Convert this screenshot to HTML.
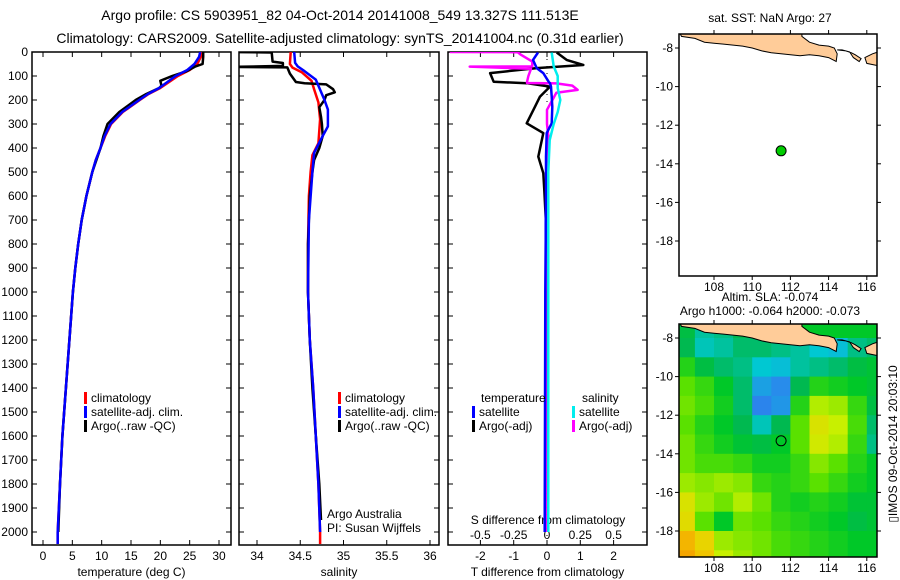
<!DOCTYPE html>
<html><head><meta charset="utf-8"><style>
html,body{margin:0;padding:0;background:#fff}
svg{display:block;font-family:"Liberation Sans",sans-serif}
</style></head><body>
<svg id="c" width="900" height="580" viewBox="0 0 900 580">
<text x="340" y="20" font-size="14" text-anchor="middle">Argo profile: CS 5903951_82 04-Oct-2014 20141008_549 13.327S 111.513E</text>
<text x="340" y="43" font-size="14" text-anchor="middle">Climatology: CARS2009. Satellite-adjusted climatology: synTS_20141004.nc (0.31d earlier)</text>
<defs>
<clipPath id="cp1"><rect x="32" y="52" width="199" height="493"/></clipPath>
<clipPath id="cp2"><rect x="239" y="52" width="200" height="493"/></clipPath>
<clipPath id="cp3"><rect x="448" y="52" width="199" height="493"/></clipPath>
<clipPath id="cm1"><rect x="679" y="34" width="198" height="242"/></clipPath>
<clipPath id="cm2"><rect x="679" y="324" width="198" height="233"/></clipPath>
</defs>
<g id="g"></g>
</svg>
<script>
// ---- data ----
const depthTicks=[0,100,200,300,400,500,600,700,800,900,1000,1100,1200,1300,1400,1500,1600,1700,1800,1900,2000];
const tempTicks=[0,5,10,15,20,25,30];
const salTicks=[34,34.5,35,35.5,36];
const salTickLabels=["34","34.5","35","35.5","36"];
const tdTicks=[-2,-1,0,1,2];
const sdTicks=[-0.5,-0.25,0,0.25,0.5];
const sdTickLabels=["-0.5","-0.25","0","0.25","0.5"];
const lonTicks=[108,110,112,114,116];
const latTicks=[-8,-10,-12,-14,-16,-18];

const tClimDepth=[0,20,50,75,100,125,150,175,200,250,300,350,400,450,500,600,700,800,900,1000,1200,1400,1600,1800,2000,2050];
const tClimVal=[27,26.9,26.3,25,23,21.5,20,18,16.5,13.6,11.6,10.6,9.8,9.0,8.4,7.4,6.6,6.0,5.5,5.1,4.5,3.9,3.3,2.9,2.5,2.5];
const tSatVal=[26.8,26.6,25.8,24.6,22.6,21.2,19.8,17.9,16.4,13.5,11.5,10.5,9.8,9.0,8.4,7.4,6.6,6.0,5.5,5.1,4.5,3.9,3.3,2.9,2.5,2.5];
const tArgoDepth=[0,20,50,60,80,100,120,140,150,175,200,250,300,350,400,450,500,600,700,800,900,1000,1200,1400,1600,1800,2000];
const tArgoVal=[27.3,27.3,27.2,26,24.5,22,20,20.2,19.8,17.6,15.8,13.0,11.0,10.3,9.8,9.1,8.4,7.4,6.6,6.0,5.5,5.1,4.5,3.9,3.3,2.9,2.6];

const sClimDepth=[0,50,65,85,120,155,210,280,380,430,500,600,800,1000,1200,1400,1600,1800,2000,2050];
const sClimVal=[34.39,34.38,34.41,34.52,34.63,34.66,34.71,34.73,34.71,34.64,34.62,34.60,34.59,34.59,34.61,34.65,34.68,34.71,34.73,34.73];
const sSatDepth=[0,45,60,80,115,200,240,310,350,420,500,700,1000,1200,1400,1600,1800,2000];
const sSatVal=[34.43,34.44,34.47,34.55,34.68,34.78,34.82,34.82,34.76,34.66,34.64,34.60,34.59,34.61,34.65,34.68,34.71,34.73];
const sArgoDepth=[0,2,40,46,58,62,64,90,125,130,135,155,168,180,200,230,270,300,350,400,450,500,600,800,1000,1200,1400,1600,1800,1950];
const sArgoVal=[33.7,34.17,34.18,34.3,34.3,33.7,34.35,34.38,34.45,34.55,34.8,34.88,34.9,34.8,34.78,34.72,34.74,34.75,34.76,34.72,34.66,34.64,34.61,34.59,34.59,34.61,34.64,34.68,34.72,34.74];

const dDepth=[2,33,54,67,88,124,130,144,186,228,297,338,436,505,575,714,783,1000,1500,2000];
const dTArgo=[0.29,0.59,1.09,-0.31,-1.71,-1.6,-0.61,0.09,-0.21,-0.36,-0.61,-0.11,-0.26,-0.11,-0.08,-0.03,-0.03,-0.02,0.02,0.03];
const dTSat=[-0.27,-0.42,-0.35,-0.31,-0.11,0.05,0.09,0.12,0.14,0.16,0.14,-0.01,-0.03,-0.03,-0.03,-0.04,-0.04,-0.05,-0.06,-0.07];
const dSArgoDepth=[0,1,10,40,60,61,70,100,125,129,131,140,158,170,190,241,300,350,500,1000,1500,2000];
const dSArgoVal=[-0.73,-0.22,-0.2,-0.11,-0.11,-0.58,-0.12,-0.14,-0.15,-0.15,0.07,0.19,0.23,0.07,0.05,0.0,0.0,0.01,0.0,-0.01,-0.01,-0.01];
const dSSatDepth=[2,60,100,150,200,250,300,367,500,1000,1500,2000];
const dSSatVal=[0.035,0.05,0.08,0.08,0.1,0.08,0.05,0.02,0.01,0.01,0.01,0.01];

const argoLon=111.513, argoLat=-13.327;
const slaLons=[106.5,107.5,108.5,109.5,110.5,111.5,112.5,113.5,114.5,115.5,116.5];
const slaLats=[-7.5,-8.5,-9.5,-10.5,-11.5,-12.5,-13.5,-14.5,-15.5,-16.5,-17.5,-18.5,-19.5];
const slaGrid=[
[-0.02,-0.06,-0.05,-0.03,0,0,0,0,0,0,0],
[-0.03,-0.07,-0.06,-0.04,-0.04,-0.05,-0.06,-0.08,-0.09,-0.05,-0.04],
[0.02,-0.02,-0.04,-0.05,-0.08,-0.09,-0.06,-0.05,-0.04,-0.02,-0.01],
[0.05,0.03,0,-0.04,-0.12,-0.14,-0.03,0.02,0.01,0,-0.01],
[0.06,0.04,0.01,-0.04,-0.15,-0.13,0.02,0.09,0.08,0.03,-0.02],
[0.05,0.02,0,-0.03,-0.07,-0.03,0.05,0.12,0.1,0.04,-0.04],
[0.06,0.03,0.01,-0.01,-0.02,0,0.05,0.11,0.09,0.03,-0.05],
[0.06,0.04,0.04,0.03,0.01,0.01,0.03,0.07,0.05,0.02,0],
[0.08,0.07,0.08,0.07,0.03,0.02,0.03,0.05,0.03,0.01,0],
[0.12,0.08,0.06,0.09,0.06,0.02,0.01,0.02,0.01,-0.01,-0.01],
[0.13,0.05,0.0,0.06,0.05,0.03,0.02,0.01,0,-0.02,-0.01],
[0.18,0.14,0.08,0.07,0.06,0.04,0.03,0.02,0.01,0,0],
[0.2,0.16,0.1,0.08,0.06,0.04,0.03,0.02,0.01,0,0]];
const javaLon=[106.2,106.3,107,107.5,108,108.5,109,109.5,110,110.5,111,111.5,112,112.5,113,113.5,114,114.4,114.45,114.3,114.0,113.5,113.0,112.6,112.6];
const javaLat=[-7.2,-7.4,-7.5,-7.7,-7.75,-7.8,-7.85,-7.9,-8.0,-8.15,-8.25,-8.3,-8.35,-8.4,-8.35,-8.4,-8.5,-8.7,-8.3,-8.0,-7.9,-7.85,-7.7,-7.4,-7.2];
const baliLon=[114.45,114.7,115.1,115.3,115.6,115.7,115.4,115.2,114.9,114.45];
const baliLat=[-8.1,-8.1,-8.2,-8.5,-8.7,-8.55,-8.35,-8.25,-8.15,-8.1];
const lombokLon=[115.9,116.3,116.6,116.8,116.8,116.5,116.0,115.9];
const lombokLat=[-8.5,-8.3,-8.2,-8.25,-8.85,-8.9,-8.8,-8.5];

// ---- drawing ----
const NS="http://www.w3.org/2000/svg";
const G=document.getElementById('g');
function mk(tag,at,parent){const e=document.createElementNS(NS,tag);for(const k in at)e.setAttribute(k,at[k]);(parent||G).appendChild(e);return e;}
function txt(x,y,s,fs,anchor,parent){const e=mk('text',{x:x,y:y,'font-size':fs,'text-anchor':anchor||'middle'},parent);e.textContent=s;return e;}
const TOP=52,BOT=545;
const yD=d=>TOP+d*0.24;
const xT=v=>43+v*5.867;
const xS=v=>257+(v-34)*86.5;
const xTD=v=>547+v*33.3;
const xSD=v=>547+v*133.2;
const mxL=l=>714+(l-108)*19.1;
const myL=l=>48+(-8-l)*19.3;
const my2=l=>338+(-8-l)*19.3;

function panel(x0,x1,name,xs,ticks,labels,title,bottomLabels){
  const r=mk('rect',{x:x0,y:TOP,width:x1-x0,height:BOT-TOP,fill:'none',stroke:'#000','stroke-width':1.5});
  
  
  depthTicks.forEach(d=>{
    mk('line',{x1:x0,x2:x0+5,y1:yD(d),y2:yD(d),stroke:'#000'});
    mk('line',{x1:x1,x2:x1-5,y1:yD(d),y2:yD(d),stroke:'#000'});
  });
  ticks.forEach((t,i)=>{
    const x=xs(t);
    mk('line',{x1:x,x2:x,y1:TOP,y2:TOP+5,stroke:'#000'});
    mk('line',{x1:x,x2:x,y1:BOT,y2:BOT-5,stroke:'#000'});
    if(bottomLabels){const l=txt(x,560,labels[i],12);
      
      }
  });
  const t=txt((x0+x1)/2,576,title,12);
  
  
}
function line(xs,depths,vals,color,clip,name,w){
  const pts=depths.map((d,i)=>xs(vals[i]).toFixed(1)+','+yD(d).toFixed(1)).join(' ');
  const p=mk('polyline',{points:pts,fill:'none',stroke:color,'stroke-width':w||2.5,'clip-path':'url(#'+clip+')','stroke-linejoin':'round'});
  
  
}
function legend(x,y,color,label,name){
  mk('rect',{x:x,y:y-10,width:3,height:12,fill:color});
  const t=txt(x+7,y,label,12,'start');
  
  
}
depthTicks.forEach(d=>{const t=txt(28,yD(d)+4,String(d),12,'end');
  
  });

// panel 1
panel(32,231,'temperature-panel',xT,tempTicks,tempTicks.map(String),'temperature (deg C)',true);
line(xT,tClimDepth,tClimVal,'#f00','cp1','temp-climatology-line');
line(xT,tArgoDepth,tArgoVal,'#000','cp1','temp-argo-line');
line(xT,tClimDepth,tSatVal,'#00f','cp1','temp-satellite-line');
legend(84,402,'#f00','climatology','legend-climatology');
legend(84,416,'#00f','satellite-adj. clim.','legend-satellite');
legend(84,430,'#000','Argo(..raw -QC)','legend-argo');

// panel 2
panel(239,439,'salinity-panel',xS,salTicks,salTickLabels,'salinity',true);
line(xS,sClimDepth,sClimVal,'#f00','cp2','sal-climatology-line');
line(xS,sArgoDepth,sArgoVal,'#000','cp2','sal-argo-line');
line(xS,sSatDepth,sSatVal,'#00f','cp2','sal-satellite-line');
legend(338,402,'#f00','climatology','legend-climatology-2');
legend(338,416,'#00f','satellite-adj. clim.','legend-satellite-2');
legend(338,430,'#000','Argo(..raw -QC)','legend-argo-2');
let t1=txt(327,518,'Argo Australia',12,'start');
let t2=txt(327,532,'PI: Susan Wijffels',12,'start');

// panel 3
panel(448,647,'difference-panel',xTD,tdTicks,tdTicks.map(String),'T difference from climatology',true);
sdTicks.forEach((s,i)=>{
  const l=txt(xSD(s),539,sdTickLabels[i],12);
  
  
});
let st=txt(548,524,'S difference from climatology',12);
mk('line',{x1:xTD(0),x2:xTD(0),y1:TOP,y2:BOT,stroke:'#000','stroke-dasharray':'1,6'});
line(xTD,dDepth,dTArgo,'#000','cp3','tdiff-argo-line');
line(xSD,dSArgoDepth,dSArgoVal,'#f0f','cp3','sdiff-argo-line');
line(xTD,dDepth,dTSat,'#00f','cp3','tdiff-satellite-line');
line(xSD,dSSatDepth,dSSatVal,'#0ee','cp3','sdiff-satellite-line');
let lt=txt(481,402,'temperature',12,'start');
let ls=txt(582,402,'salinity',12,'start');
legend(472,416,'#00f','satellite','legend-t-satellite');
legend(472,430,'#000','Argo(-adj)','legend-t-argo');
legend(572,416,'#0ee','satellite','legend-s-satellite');
legend(572,430,'#f0f','Argo(-adj)','legend-s-argo');

// colormap
const cStops=[[-0.2,[60,90,240]],[-0.14,[40,140,235]],[-0.08,[0,200,210]],[-0.03,[0,185,80]],[0,[0,200,40]],[0.05,[90,225,0]],[0.1,[200,240,0]],[0.15,[240,205,0]],[0.2,[245,165,0]]];
function cmap(v){
  if(v<=cStops[0][0])return 'rgb('+cStops[0][1]+')';
  for(let i=1;i<cStops.length;i++){if(v<=cStops[i][0]){const a=cStops[i-1],b=cStops[i],f=(v-a[0])/(b[0]-a[0]);
    return 'rgb('+a[1].map((c,k)=>Math.round(c+(b[1][k]-c)*f)).join(',')+')';}}
  return 'rgb('+cStops[cStops.length-1][1]+')';
}
function landPoly(lons,lats,ym,clip,name){
  const p=mk('polygon',{points:lons.map((l,i)=>mxL(l).toFixed(1)+','+ym(lats[i]).toFixed(1)).join(' '),fill:'#fc9',stroke:'#000','stroke-width':1,'clip-path':'url(#'+clip+')'});
  
  
}
function mapFrame(y0,y1,ym,name){
  const r=mk('rect',{x:679,y:y0,width:198,height:y1-y0,fill:'none',stroke:'#000','stroke-width':1.5});
  
  
  lonTicks.forEach(l=>{const x=mxL(l);
    mk('line',{x1:x,x2:x,y1:y0,y2:y0-4,stroke:'#000'});
    mk('line',{x1:x,x2:x,y1:y1,y2:y1+4,stroke:'#000'});
    const t=txt(x,y1+15,String(l),12);});
  latTicks.forEach(l=>{const y=ym(l);
    mk('line',{x1:679,x2:675,y1:y,y2:y,stroke:'#000'});
    mk('line',{x1:877,x2:881,y1:y,y2:y,stroke:'#000'});
    const t=txt(673,y+4,String(l),12,'end');});
}
// map 1
let m1=txt(770,22,'sat. SST: NaN Argo: 27',12);
landPoly(javaLon,javaLat,myL,'cm1','java-land');
landPoly(baliLon,baliLat,myL,'cm1','bali-land');
landPoly(lombokLon,lombokLat,myL,'cm1','lombok-land');
const dot=mk('circle',{cx:mxL(argoLon),cy:myL(argoLat),r:5,fill:'#0c0',stroke:'#000'});


mapFrame(34,276,myL,'sst-map');

// map 2
let m2=txt(770,301,'Altim. SLA: -0.074',12);
let m3=txt(770,315,'Argo h1000: -0.064 h2000: -0.073',12);
const hg=mk('g',{'clip-path':'url(#cm2)'});
slaGrid.forEach((row,ri)=>row.forEach((v,ci)=>{
  const x=mxL(slaLons[ci]-0.5),y=my2(slaLats[ri]+0.5);
  const c=mk('rect',{x:x.toFixed(1),y:y.toFixed(1),width:19.6,height:19.8,fill:cmap(v)},hg);
  
  
}));
landPoly(javaLon,javaLat,my2,'cm2','java-land-2');
landPoly(baliLon,baliLat,my2,'cm2','bali-land-2');
landPoly(lombokLon,lombokLat,my2,'cm2','lombok-land-2');
const c2=mk('circle',{cx:mxL(argoLon),cy:my2(argoLat),r:5,fill:'none',stroke:'#000'});


mapFrame(324,557,my2,'sla-map');
const ts=txt(0,0,'▯IMOS 09-Oct-2014 20:03:10',12);
ts.setAttribute('transform','translate(897,444) rotate(-90)');


</script>
</body></html>
